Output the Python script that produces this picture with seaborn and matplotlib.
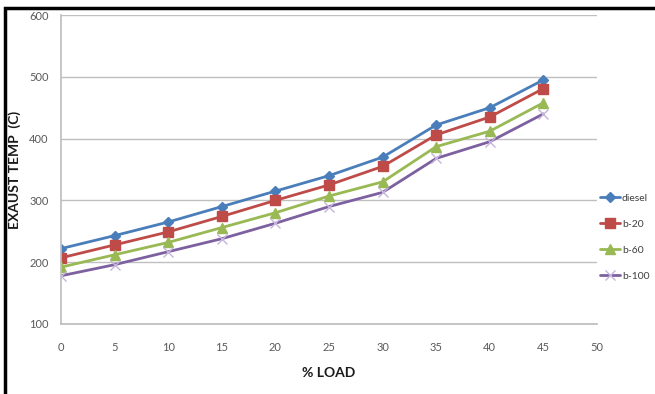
import pandas as pd
import matplotlib.pyplot as plt
import seaborn as sns
from matplotlib.patches import Rectangle

load = [0, 5, 10, 15, 20, 25, 30, 35, 40, 45]
diesel = [222, 243, 265, 290, 315, 340, 370, 422, 450, 495]
b20 = [207, 228, 249, 274, 300, 325, 355, 406, 435, 481]
b60 = [192, 212, 232, 256, 280, 307, 330, 387, 412, 458]
b100 = [178, 196, 217, 238, 263, 290, 313, 368, 395, 440]

series = {"diesel": diesel, "b-20": b20, "b-60": b60, "b-100": b100}
df = pd.DataFrame([
    {"load": x, "temp": y, "fuel": name}
    for name, vals in series.items() for x, y in zip(load, vals)
])

sns.set_theme(style="white")
plt.rcParams['font.family'] = ['Lato', 'DejaVu Sans']

colors = ["#4A7EBB", "#BE4B48", "#98B954", "#7D60A0"]
edge = ["#4A7EBB", "#BE4B48", "#98B954", "#C5B5DA"]
markers = ["D", "s", "^", "x"]
sizes = [5, 7, 7, 7]

fig = plt.figure(figsize=(6.55, 3.94), dpi=100)
ax = fig.add_axes([61/655, 1 - 324/394, (597-61)/655, (324-15)/394])

for (name, vals), c, e, m, s in zip(series.items(), colors, edge, markers, sizes):
    sub = df[df.fuel == name]
    sns.lineplot(data=sub, x="load", y="temp", ax=ax, color=c, marker=m,
                 markersize=s, linewidth=2.0, label=name,
                 markeredgecolor=e, markerfacecolor=e,
                 markeredgewidth=1 if m != "x" else 1.0)

ax.set_xlim(0, 50)
ax.set_ylim(100, 600)
ax.set_xticks(range(0, 51, 5))
ax.set_yticks(range(100, 601, 100))
ax.yaxis.grid(True, color="#BFBFBF", linewidth=1)
ax.xaxis.grid(False)
for side in ["top", "right"]:
    ax.spines[side].set_visible(False)
for side in ["left", "bottom"]:
    ax.spines[side].set_color("#BFBFBF")
ax.tick_params(axis="x", colors="#595959", labelsize=8, length=0, pad=13)
ax.tick_params(axis="y", colors="#595959", labelsize=8, length=0, pad=9)
ax.set_xlabel("% LOAD", fontsize=10, fontweight="bold", color="#1a1a1a", labelpad=10)
ax.set_ylabel("EXAUST TEMP  (C)", fontsize=10, fontweight="bold", color="#1a1a1a", labelpad=6)

leg = ax.legend(loc="upper left", bbox_to_anchor=(0.997, 0.435), frameon=False,
                fontsize=7.5, handlelength=2.0, handletextpad=0.15, labelspacing=1.6,
                borderaxespad=0)
for t in leg.get_texts():
    t.set_color("#404040")

fig.patches.append(Rectangle((5/655, -0.1), 1.2, 1 - 8/394 + 0.1,
                             transform=fig.transFigure, fill=False,
                             edgecolor="black", linewidth=2.5))

plt.savefig("out.png", dpi=100)
